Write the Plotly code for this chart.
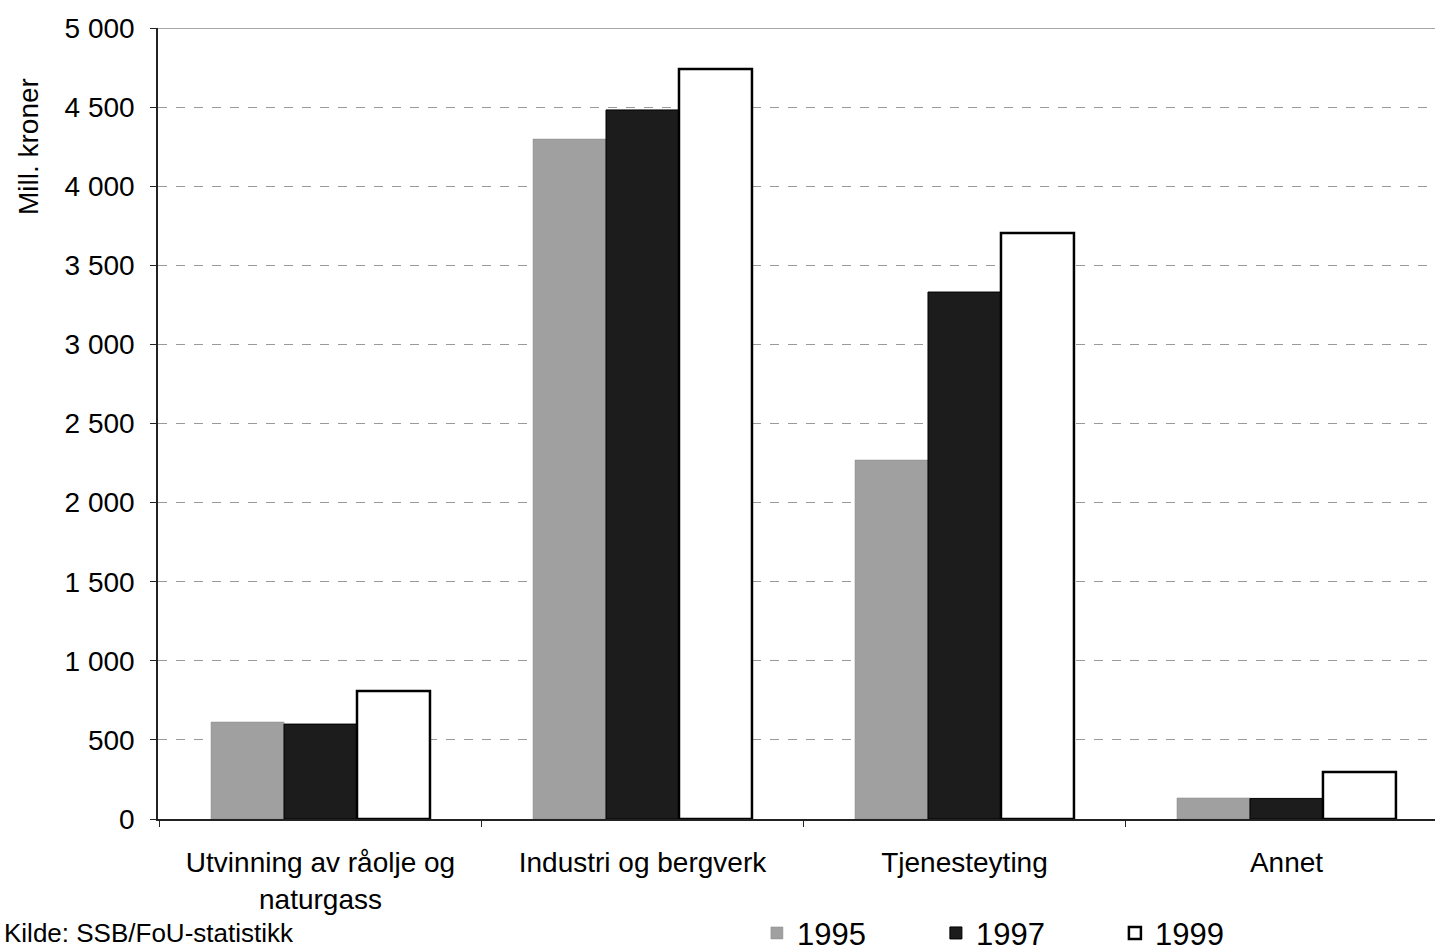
import plotly.graph_objects as go

categories = ["Utvinning av råolje og<br>naturgass", "Industri og bergverk", "Tjenesteyting", "Annet"]
years = ["1995", "1997", "1999"]
v1995 = [613, 4298, 2269, 133]
v1997 = [600, 4482, 3331, 130]
v1999 = [809, 4741, 3704, 297]
y_ticks = [0, 500, 1000, 1500, 2000, 2500, 3000, 3500, 4000, 4500, 5000]
y_ticklabels = ["0", "500", "1 000", "1 500", "2 000", "2 500", "3 000", "3 500", "4 000", "4 500", "5 000"]

FONT = "Liberation Sans, Arial, sans-serif"

fig = go.Figure()
styles = [
    dict(color="#a0a0a0", line=dict(color="#8a8a8a", width=0.5)),
    dict(color="#1c1c1c", line=dict(color="#000000", width=1)),
    dict(color="#ffffff", line=dict(color="#000000", width=2.5)),
]
for name, vals, st in zip(years, [v1995, v1997, v1999], styles):
    fig.add_trace(go.Bar(x=categories, y=vals, name=name, marker=st))

fig.update_layout(
    width=1435, height=951,
    margin=dict(l=158, r=0, t=28, b=132, autoexpand=False),
    paper_bgcolor="white", plot_bgcolor="white",
    barmode="group", bargap=0.32, bargroupgap=0,
    font=dict(family=FONT, size=28, color="#000000"),
    showlegend=True,
    legend=dict(orientation="h", x=0.469, xanchor="left", y=-0.1445, yanchor="middle",
                font=dict(size=31, color="#000000"), entrywidth=134, entrywidthmode="pixels",
                bgcolor="rgba(0,0,0,0)"),
)
fig.update_xaxes(
    range=[-0.5047, 3.4613], showline=True, linecolor="#222222", linewidth=1.5,
    ticks="outside", tickson="boundaries", ticklen=6, tickcolor="#222222",
    tickfont=dict(size=28, family=FONT, color="#000000"), showgrid=False,
    ticklabelstandoff=18,
)
fig.update_yaxes(
    range=[0, 5000], tickvals=y_ticks, ticktext=y_ticklabels,
    showline=True, linecolor="#222222", linewidth=1.5,
    ticks="outside", ticklen=6, tickcolor="#222222",
    tickfont=dict(size=28, family=FONT, color="#000000"),
    showgrid=True, gridcolor="#9a9a9a", griddash="dash", gridwidth=1.2,
    zeroline=False, ticklabelstandoff=10,
)
fig.add_shape(type="line", xref="paper", yref="y", x0=0, x1=1,
              y0=y_ticks[-1], y1=y_ticks[-1], line=dict(color="#8a8a8a", width=1.5), layer="below")
fig.add_annotation(text="Mill. kroner", textangle=-90, xref="paper", yref="paper",
                   x=-0.1018, y=0.8495, xanchor="center", yanchor="middle", showarrow=False,
                   font=dict(size=28, family=FONT, color="#000000"))
fig.add_annotation(text="Kilde: SSB/FoU-statistikk", xref="paper", yref="paper",
                   x=-0.1222, y=-0.1441, xanchor="left", yanchor="middle", showarrow=False,
                   font=dict(size=26, family=FONT, color="#000000"))

fig.write_html("out.html", config={"displayModeBar": False},
               post_script="document.body.style.margin='0';document.body.style.overflow='hidden';")
